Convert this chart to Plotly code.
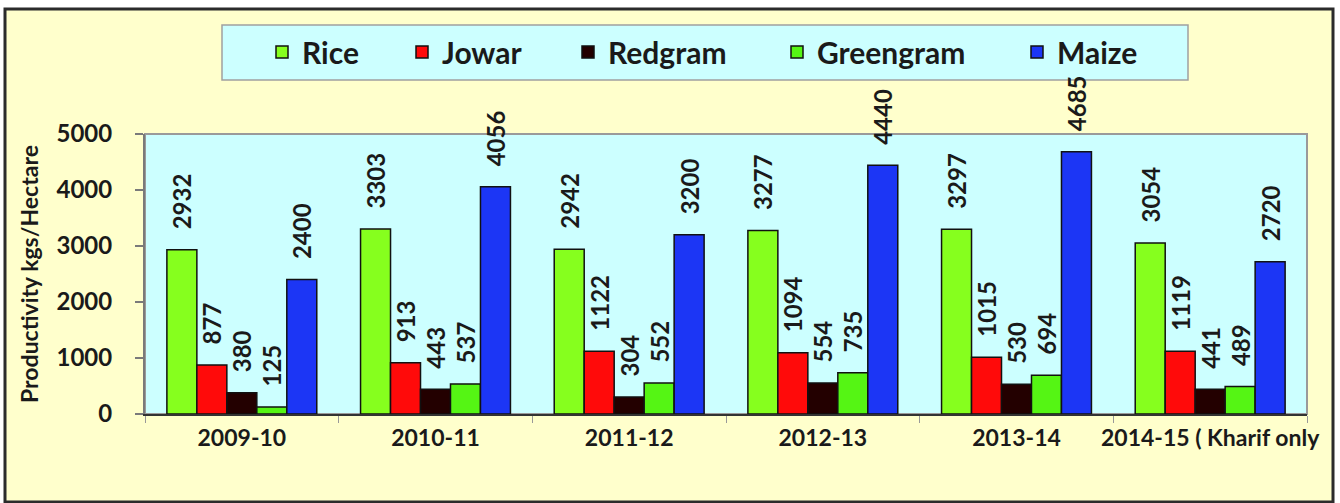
import plotly.graph_objects as go

years = ["2009-10", "2010-11", "2011-12", "2012-13", "2013-14", "2014-15 ( Kharif only"]
rice = [2932, 3303, 2942, 3277, 3297, 3054]
jowar = [877, 913, 1122, 1094, 1015, 1119]
redgram = [380, 443, 304, 554, 530, 441]
greengram = [125, 537, 552, 735, 694, 489]
maize = [2400, 4056, 3200, 4440, 4685, 2720]

series = [
    ("Rice", rice, "#86FF1E"),
    ("Jowar", jowar, "#FF0A0A"),
    ("Redgram", redgram, "#230000"),
    ("Greengram", greengram, "#55F514"),
    ("Maize", maize, "#1C36F5"),
]

W, H = 1340, 503
L, R, T, B = 145, 33, 134, 89
PW, PH = W - L - R, H - T - B


def px_x(p):
    return (p - L) / PW


def px_y(p):
    return (H - B - p) / PH


FONT = "Lato, 'Open Sans', sans-serif"
legend_px = [262, 402, 568, 777, 1017]

fig = go.Figure()
for i, (name, vals, col) in enumerate(series):
    lg = "legend" if i == 0 else f"legend{i+1}"
    fig.add_trace(go.Bar(
        x=years, y=vals, name=name,
        marker=dict(color=col, line=dict(color="#111111", width=1.5)),
        texttemplate="\u00a0\u00a0\u00a0%{y}",
        textposition="outside",
        textangle=-90,
        constraintext="none",
        cliponaxis=False,
        textfont=dict(family=FONT, size=24, color="#1a1a1a", weight="bold"),
        legend=lg,
        showlegend=True,
    ))

layout_legends = {}
for i, xp in enumerate(legend_px):
    key = "legend" if i == 0 else f"legend{i+1}"
    layout_legends[key] = dict(
        x=px_x(xp), y=px_y(52), xanchor="left", yanchor="middle",
        xref="paper", yref="paper",
        bgcolor="rgba(0,0,0,0)", borderwidth=0,
        font=dict(family=FONT, size=30, color="#1a1a1a", weight="bold"),
        orientation="h",
    )

shapes = [
    dict(type="rect", xref="paper", yref="paper", layer="below",
         x0=px_x(5), x1=px_x(1333), y0=px_y(502), y1=px_y(9),
         fillcolor="#FFFFCC", line=dict(color="#2b2b2b", width=3)),
    dict(type="rect", xref="paper", yref="paper", layer="below",
         x0=0, x1=1, y0=0, y1=1,
         fillcolor="#CCFFFF", line=dict(color="#9a9a9a", width=2)),
    dict(type="rect", xref="paper", yref="paper", layer="below",
         x0=px_x(222), x1=px_x(1188), y0=px_y(80), y1=px_y(25),
         fillcolor="#CCFFFF", line=dict(color="#a0a0a0", width=1.5)),
]

fig.update_layout(
    width=W, height=H,
    margin=dict(l=L, r=R, t=T, b=B, pad=0, autoexpand=False),
    paper_bgcolor="white",
    plot_bgcolor="rgba(0,0,0,0)",
    barmode="group",
    bargap=0.226,
    bargroupgap=0,
    shapes=shapes,
    showlegend=True,
    font=dict(family=FONT, size=24, color="#1a1a1a", weight="bold"),
    **layout_legends,
)

fig.update_yaxes(
    range=[0, 5000], tickvals=[0, 1000, 2000, 3000, 4000, 5000],
    automargin=False,
    showgrid=False, zeroline=False,
    showline=True, linecolor="#7a7a7a", linewidth=2,
    ticks="outside", ticklen=8, tickcolor="#7a7a7a", tickwidth=1.5,
    ticklabelstandoff=18,
    tickfont=dict(family=FONT, size=24, color="#1a1a1a", weight="bold"),
    title=dict(text="Productivity kgs/Hectare", standoff=11,
               font=dict(family=FONT, size=23, color="#1a1a1a", weight="bold")),
)
fig.update_xaxes(
    type="category", automargin=False, tickangle=0,
    showgrid=False, zeroline=False,
    showline=True, linecolor="#333333", linewidth=2,
    ticks="outside", tickson="boundaries", ticklen=7, tickcolor="#999999", tickwidth=1,
    ticklabelstandoff=2,
    tickfont=dict(family=FONT, size=23, color="#1a1a1a", weight="bold"),
)

fig.write_html(
    "out.html",
    config={"displayModeBar": False},
    post_script="document.body.style.margin='0';document.body.style.overflow='hidden';",
)
